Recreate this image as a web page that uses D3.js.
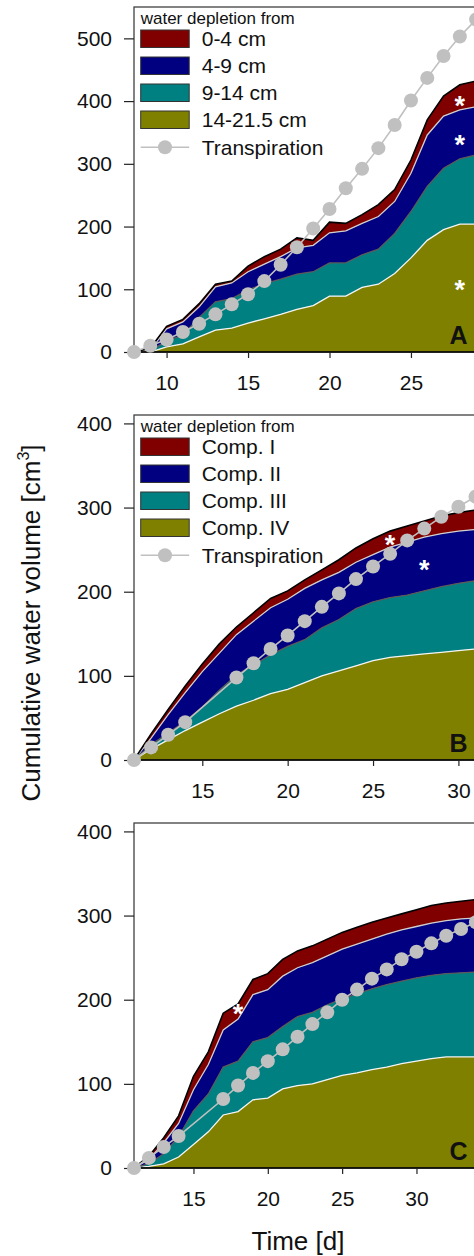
<!DOCTYPE html>
<html>
<head>
<meta charset="utf-8">
<script src="https://cdn.jsdelivr.net/npm/d3@7"></script>
<style>
  body { margin: 0; background: #fff; }
  svg { display: block; font-family: "Liberation Sans", Arial, sans-serif; }
</style>
</head>
<body>
<div id="chart"></div>
<script>
// ---- panel A (depth layers) ----
const daysA = [8, 9, 10, 11, 12, 13, 14, 15, 16, 17, 18, 19, 20, 21, 22, 23, 24, 25, 26, 27, 28, 29];
const aLayer1 = [0, 3, 4, 4, 5, 4, 3, 9, 12, 12, 16, 8, 17, 12, 14, 19, 19, 21, 24, 32, 40, 41];      // 0-4 cm
const aLayer2 = [0, 2, 19, 21, 17, 24, 25, 29, 31, 36, 42, 42, 48, 51, 50, 52, 51, 61, 82, 83, 78, 77]; // 4-9 cm
const aLayer3 = [0, 1, 10, 14, 31, 45, 47, 53, 56, 56, 56, 54, 53, 53, 52, 56, 64, 74, 86, 98, 104, 110]; // 9-14 cm
const aLayer4 = [0, 0, 8, 13, 24, 35, 38, 46, 53, 60, 68, 74, 89, 89, 103, 108, 125, 150, 178, 195, 204, 204]; // 14-21.5 cm
const transpA = [0, 10, 20, 32, 45, 60, 76, 92, 113, 139, 167, 197, 228, 261, 292, 325, 362, 401, 437, 472, 503, 530];

// ---- panel B (compartments) ----
const daysB = [11, 12, 13, 14, 15, 16, 17, 18, 19, 20, 21, 22, 23, 24, 25, 26, 27, 28, 29, 30, 31];
const bComp1 = [0, 5, 6, 8, 9, 11, 9, 10, 11, 10, 10, 12, 15, 17, 19, 19, 19, 19, 21, 22, 23];
const bComp2 = [0, 8, 22, 34, 42, 44, 48, 52, 56, 56, 61, 57, 56, 55, 56, 60, 63, 64, 63, 62, 61];
const bComp3 = [0, 5, 8, 11, 18, 28, 37, 42, 46, 51, 51, 57, 61, 68, 70, 71, 72, 75, 78, 80, 81];
const bComp4 = [0, 13, 24, 35, 45, 55, 64, 71, 79, 84, 92, 100, 106, 112, 118, 122, 124, 126, 128, 130, 132];
const transpB = [0, 15, 30, 45, null, null, 98, 115, 132, 148, 165, 182, 198, 215, 230, 245, 261, 275, 289, 301, 313];

// ---- panel C (compartments) ----
const daysC = [11, 12, 13, 14, 15, 16, 17, 18, 19, 20, 21, 22, 23, 24, 25, 26, 27, 28, 29, 30, 31, 32, 33, 34];
const cComp1 = [0, 4, 6, 9, 16, 15, 20, 18, 18, 19, 20, 20, 20, 20, 20, 20, 20, 19, 19, 20, 21, 21, 21, 22];
const cComp2 = [0, 5, 13, 16, 25, 35, 44, 50, 56, 57, 60, 58, 59, 58, 59, 59, 59, 60, 61, 61, 62, 63, 64, 64];
const cComp3 = [0, 3, 12, 24, 40, 45, 57, 60, 69, 72, 74, 82, 85, 89, 91, 94, 96, 98, 98, 99, 99, 99, 100, 101];
const cComp4 = [0, 2, 5, 13, 28, 43, 63, 67, 81, 83, 94, 98, 100, 105, 110, 113, 117, 120, 124, 127, 130, 132, 132, 132];
const transpC = [0, 12, 25, 38, null, null, 82, 98, 113, 127, 141, 156, 171, 185, 200, 212, 225, 236, 248, 257, 267, 276, 284, 292];

// significance marks (day, value)
const starsA = [[28, 402], [28, 340], [28, 108]];
const starsB = [[26, 263], [28, 233]];
const starsC = [[18, 190]];

const legendA = ["0-4 cm", "4-9 cm", "9-14 cm", "14-21.5 cm"];
const legendB = ["Comp. I", "Comp. II", "Comp. III", "Comp. IV"];
const yTicksA = [0, 100, 200, 300, 400, 500];
const yTicksBC = [0, 100, 200, 300, 400];
const xTicksA = [10, 15, 20, 25];
const xTicksBC = [15, 20, 25, 30];

const fills = ["#800000", "#000080", "#008080", "#808000"];   // layer 1..4
const edges = ["#000000", "#cfcfcf", "#5a5a5a", "#f4f4f4"];   // top edge of layer 1..4
const grey = "#c0c0c0";

const width = 474, height = 1256;
const left = 134, W = 391, H = 345;

const svg = d3.select("#chart").append("svg")
  .attr("width", width)
  .attr("height", height);

function panel(cfg) {
  const g = svg.append("g").attr("transform", `translate(${left},${cfg.top})`);
  const x = d3.scaleLinear().domain(cfg.xDomain).range([0, W]);
  const y = d3.scaleLinear().domain(cfg.yDomain).range([H, 0]);

  const rows = cfg.days.map((d, i) => ({
    day: d, l1: cfg.layers[0][i], l2: cfg.layers[1][i], l3: cfg.layers[2][i], l4: cfg.layers[3][i]
  }));
  const keys = ["l4", "l3", "l2", "l1"];
  const series = d3.stack().keys(keys)(rows);

  const area = d3.area()
    .x(d => x(d.data.day))
    .y0(d => y(d[0]))
    .y1(d => y(d[1]));
  const edge = d3.line()
    .x(d => x(d.data.day))
    .y(d => y(d[1]));

  g.selectAll("path.layer")
    .data(series)
    .join("path")
    .attr("class", "layer")
    .attr("fill", (s, i) => fills[3 - i])
    .attr("d", area);

  g.selectAll("path.edge")
    .data(series)
    .join("path")
    .attr("class", "edge")
    .attr("fill", "none")
    .attr("stroke", (s, i) => edges[3 - i])
    .attr("stroke-width", (s, i) => i === 3 ? 1.6 : 1.3)
    .attr("d", edge);

  // frame
  g.append("rect")
    .attr("width", W).attr("height", H)
    .attr("fill", "none")
    .attr("stroke", "#404040")
    .attr("stroke-width", 1.3);
  g.append("line")
    .attr("x1", 0).attr("x2", W).attr("y1", H).attr("y2", H)
    .attr("stroke", "#000").attr("stroke-width", 1.5);

  // axes
  const yAxis = g.append("g")
    .call(d3.axisLeft(y).tickValues(cfg.yTicks).tickSize(10).tickPadding(12).tickSizeOuter(0));
  const xAxis = g.append("g")
    .attr("transform", `translate(0,${H})`)
    .call(d3.axisBottom(x).tickValues(cfg.xTicks).tickSize(6).tickPadding(17).tickSizeOuter(0));
  for (const ax of [yAxis, xAxis]) {
    ax.select(".domain").remove();
    ax.selectAll("line").attr("stroke", "#222").attr("stroke-width", 1.2);
    ax.selectAll("text")
      .attr("font-size", 21)
      .attr("font-family", "Liberation Sans, Arial, sans-serif")
      .attr("fill", "#111");
  }

  // transpiration
  const tp = cfg.days.map((d, i) => ({ day: d, v: cfg.transp[i] })).filter(d => d.v !== null);
  g.append("path")
    .datum(tp)
    .attr("fill", "none")
    .attr("stroke", grey)
    .attr("stroke-width", 1.6)
    .attr("d", d3.line().x(d => x(d.day)).y(d => y(d.v)));
  g.selectAll("circle.tp")
    .data(tp)
    .join("circle")
    .attr("class", "tp")
    .attr("cx", d => x(d.day))
    .attr("cy", d => y(d.v))
    .attr("r", 7)
    .attr("fill", grey);

  // stars
  g.selectAll("text.star")
    .data(cfg.stars)
    .join("text")
    .attr("class", "star")
    .attr("x", d => x(d[0]))
    .attr("y", d => y(d[1]) + 15)
    .attr("text-anchor", "middle")
    .attr("font-size", 27)
    .attr("font-weight", "bold")
    .attr("fill", "#fff")
    .text("*");

  // panel letter
  g.append("text")
    .attr("x", 324.5)
    .attr("y", H - 8)
    .attr("text-anchor", "middle")
    .attr("font-size", 25)
    .attr("font-weight", "bold")
    .attr("fill", "#111")
    .text(cfg.letter);

  // legend
  if (cfg.legend) {
    const lg = g.append("g").attr("transform", "translate(6.7,0)");
    lg.append("text")
      .attr("x", 0).attr("y", 17)
      .attr("font-size", 17)
      .attr("fill", "#111")
      .text("water depletion from");
    cfg.legend.forEach((name, i) => {
      const top = 23 + i * 27;
      lg.append("rect")
        .attr("x", 0).attr("y", top)
        .attr("width", 48.5).attr("height", 17.5)
        .attr("fill", fills[i])
        .attr("stroke", "#333")
        .attr("stroke-width", 1);
      lg.append("text")
        .attr("x", 61).attr("y", top + 8.75)
        .attr("dy", "0.36em")
        .attr("font-size", 21)
        .attr("fill", "#111")
        .text(name);
    });
    const ty = 23 + 4 * 27 + 9.3;
    lg.append("line")
      .attr("x1", 0).attr("x2", 48.5).attr("y1", ty).attr("y2", ty)
      .attr("stroke", grey).attr("stroke-width", 1.6);
    lg.append("circle")
      .attr("cx", 24.3).attr("cy", ty).attr("r", 7).attr("fill", grey);
    lg.append("text")
      .attr("x", 61).attr("y", ty)
      .attr("dy", "0.36em")
      .attr("font-size", 21)
      .attr("fill", "#111")
      .text("Transpiration");
  }
}

panel({
  top: 7, letter: "A", days: daysA,
  layers: [aLayer1, aLayer2, aLayer3, aLayer4], transp: transpA,
  xDomain: [8, 32], yDomain: [0, 550], xTicks: xTicksA, yTicks: yTicksA,
  stars: starsA, legend: legendA
});
panel({
  top: 415, letter: "B", days: daysB,
  layers: [bComp1, bComp2, bComp3, bComp4], transp: transpB,
  xDomain: [11, 33.9], yDomain: [0, 410], xTicks: xTicksBC, yTicks: yTicksBC,
  stars: starsB, legend: legendB
});
panel({
  top: 823, letter: "C", days: daysC,
  layers: [cComp1, cComp2, cComp3, cComp4], transp: transpC,
  xDomain: [11, 37.3], yDomain: [0, 410], xTicks: xTicksBC, yTicks: yTicksBC,
  stars: starsC, legend: null
});

// axis titles
const yTitle = svg.append("text")
  .attr("transform", "translate(40,623) rotate(-90)")
  .attr("text-anchor", "middle")
  .attr("font-size", 26)
  .attr("fill", "#111");
yTitle.append("tspan").text("Cumulative water volume [cm");
yTitle.append("tspan").attr("font-size", 16).attr("dy", -11).text("3");
yTitle.append("tspan").attr("dy", 11).text("]");

svg.append("text")
  .attr("x", 298).attr("y", 1250)
  .attr("text-anchor", "middle")
  .attr("font-size", 26)
  .attr("fill", "#111")
  .text("Time [d]");
</script>
</body>
</html>
